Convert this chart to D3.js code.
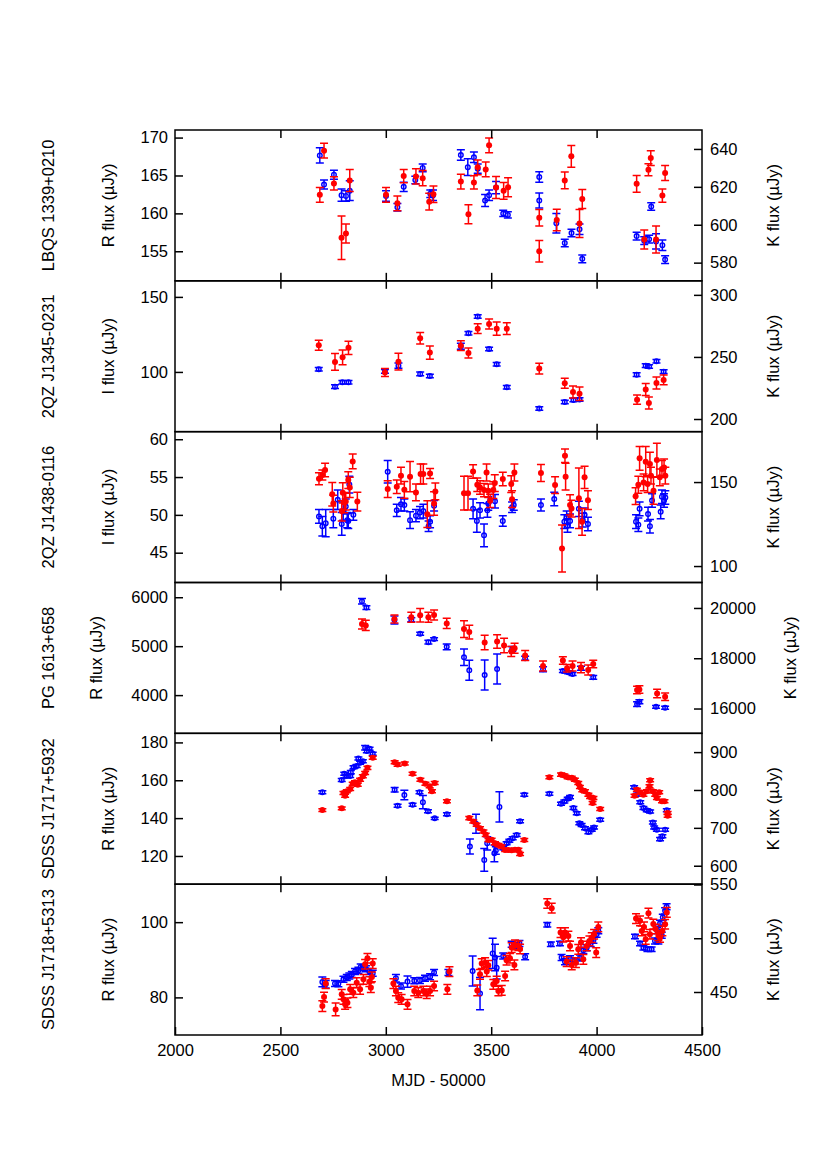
<!DOCTYPE html>
<html><head><meta charset="utf-8">
<script src="https://cdn.jsdelivr.net/npm/d3@7"></script>
<style>body{margin:0;background:#fff}</style>
</head><body><svg id="c" width="830" height="1175"></svg>
<script>
// ---------- data ----------
const xTicks = [2000, 2500, 3000, 3500, 4000, 4500];
const objectNames = ["LBQS 1339+0210", "2QZ J1345-0231", "2QZ J1438-0116", "PG 1613+658", "SDSS J1717+5932", "SDSS J1718+5313"];
const leftTitles = ["R flux (\u00b5Jy)", "I flux (\u00b5Jy)", "I flux (\u00b5Jy)", "R flux (\u00b5Jy)", "R flux (\u00b5Jy)", "R flux (\u00b5Jy)"];
const rightTitles = ["K flux (\u00b5Jy)", "K flux (\u00b5Jy)", "K flux (\u00b5Jy)", "K flux (\u00b5Jy)", "K flux (\u00b5Jy)", "K flux (\u00b5Jy)"];
const leftTicks = [[155,160,165,170],[100,150],[45,50,55,60],[4000,5000,6000],[120,140,160,180],[80,100]];
const rightTicks = [[580,600,620,640],[200,250,300],[100,150],[16000,18000,20000],[600,700,800,900],[450,500,550]];
const leftDomains = [[151.1,171.0],[60.2,160.7],[41.06,61.0],[3219,6301],[105.1,184.8],[70.0,110.1]];
const rightDomains = [[570.4,650.0],[189.8,311.3],[90.2,180.0],[15013,21013],[551.3,949.6],[410.0,550.3]];

// [MJD-50000, flux, error]
const optical1 = [[2687,167.65,1.0],[2707,163.8,0.6],[2754,165.1,0.6],[2790,162.4,0.8],[2811,162.3,0.7],[2829,163.0,1.3],[3001,162.3,0.7],[3055,160.8,0.5],[3085,163.5,0.6],[3140,164.4,0.5],[3175,166.0,0.5],[3211,162.6,0.5],[3224,162.4,0.7],[3356,167.7,0.7],[3389,166.1,1.1],[3418,167.4,0.7],[3436,165.9,0.6],[3471,161.7,0.8],[3490,162.4,0.7],[3523,163.4,0.8],[3557,160.0,0.4],[3579,159.8,0.4],[3728,164.8,0.7],[3728,161.7,1.0],[3809,158.7,1.3],[3849,156.1,0.5],[3881,157.4,0.5],[3919,157.9,0.7],[3932,154.0,0.5],[4190,157.0,0.5],[4226,156.4,0.5],[4249,156.6,0.5],[4259,160.9,0.5],[4282,156.3,1.0],[4312,155.8,0.7],[4325,153.9,0.5]];
const kband1 = [[2687,615.8,3.9],[2707,639.1,3.9],[2754,621.8,3.5],[2790,593.1,11.5],[2811,595.4,5],[2829,623.4,5.8],[3001,615.8,3.9],[3055,611.3,3.9],[3085,625.7,3.5],[3143,625.5,4],[3175,624.6,4],[3206,612.2,4.4],[3226,616.1,4.4],[3356,622.8,3.9],[3392,605.5,5],[3418,622.3,3.5],[3436,630.3,3.9],[3474,629.2,3.9],[3490,641.9,3.9],[3523,619.6,5.8],[3559,617.9,4.4],[3580,619.8,5],[3728,603.7,4.4],[3728,586.0,5.7],[3811,602.5,5.7],[3849,623.4,4.4],[3880,636.1,5.7],[3919,600.7,7.4],[3932,613.6,5],[4190,621.6,4.4],[4226,592.2,5],[4246,629.0,3.2],[4257,635.2,3.9],[4282,592.2,7.1],[4312,615.4,3.5],[4325,627.3,3.9]];

const optical2 = [[2682,101.8,1.2],[2759,90.2,1.2],[2794,93.1,1.2],[2823,93.1,1.2],[2996,100.4,1.2],[3060,104.2,1.8],[3163,98.7,1.2],[3209,97.3,1.2],[3356,117.1,2.0],[3392,125.8,1.2],[3436,136.9,1.2],[3490,115.3,1.2],[3526,105.1,1.2],[3574,89.8,1.2],[3728,75.6,1.2],[3849,80.0,1.2],[3890,81.3,1.2],[3919,81.6,1.2],[4190,98.2,1.2],[4233,104.2,1.2],[4249,103.6,1.2],[4284,107.1,1.2],[4318,100.2,1.2]];
const kband2 = [[2682,259.4,4],[2759,246.0,6.7],[2795,249.7,5.9],[2823,257.3,5.4],[2996,237.4,3.2],[3060,246.2,6.7],[3163,265.1,4.6],[3209,253.5,5.4],[3356,259.1,4],[3392,253.2,4],[3436,272.8,4],[3490,276.6,4],[3526,272.8,5.4],[3574,272.8,4.8],[3728,240.6,4.3],[3849,228.8,4],[3888,221.8,4.8],[3919,220.4,5.4],[4192,215.6,3.8],[4233,223.7,4.8],[4248,212.9,4.8],[4284,229.0,4.8],[4318,231.5,4]];

const optical3 = [[2683,49.8,0.9],[2699,48.5,1.3],[2715,48.9,1.8],[2751,49.5,1.2],[2772,52.0,1.3],[2791,48.8,1.5],[2798,50.5,1.2],[2810,51.1,1.0],[2817,49.3,1.0],[2822,49.2,1.0],[2827,54.0,1.1],[2846,50.0,0.7],[3009,55.7,1.5],[3052,50.6,0.8],[3072,51.4,0.9],[3088,51.3,0.8],[3115,49.3,1.1],[3143,49.9,0.8],[3162,50.3,0.8],[3178,50.5,0.9],[3203,48.5,0.7],[3210,49.1,0.8],[3229,51.2,0.7],[3414,50.8,1.3],[3432,49.2,1.5],[3447,50.6,1.0],[3466,47.3,1.5],[3482,50.6,0.9],[3486,51.5,0.9],[3518,51.8,0.9],[3555,49.2,0.7],[3599,51.0,0.7],[3607,51.3,0.7],[3736,51.3,0.8],[3799,52.1,0.9],[3847,49.1,0.9],[3858,49.6,0.9],[3862,48.6,0.9],[3874,49.2,0.9],[3916,50.8,1.0],[3934,49.3,0.9],[3943,50.0,0.9],[3959,48.8,0.9],[4187,49.1,0.9],[4198,48.7,0.9],[4204,50.8,0.9],[4244,50.1,0.9],[4253,48.5,0.9],[4263,51.9,0.9],[4304,50.4,0.9],[4310,52.4,0.9],[4320,51.9,0.9],[4326,52.3,0.9]];
const kband3 = [[2683,152.0,3.6],[2699,154.2,3],[2712,157.2,4],[2746,142.8,7],[2751,137.2,5],[2791,132.8,6],[2796,143.6,6],[2803,137.8,6],[2810,138.4,5],[2822,151.2,5],[2829,146.8,6],[2843,162.3,4.4],[2865,138.4,5.6],[3009,145.8,5],[3052,147.2,4],[3072,153.8,5],[3088,145.4,5],[3115,153.2,9],[3143,143.8,5],[3165,154.8,6],[3178,154.8,6],[3197,130.9,8],[3210,155.1,3],[3229,137.2,7],[3235,144.4,5],[3371,143.4,10],[3390,143.4,10],[3414,156.3,4],[3434,148.4,4],[3447,146.8,4],[3466,145.2,4],[3478,155.7,5],[3486,144.8,4],[3495,138.8,4],[3510,145.2,5],[3517,149.4,5],[3555,151.8,4],[3595,148.8,5],[3599,139.8,5],[3610,155.7,5],[3736,155.4,5],[3803,148.2,5],[3836,110.5,14],[3850,165.7,4],[3853,153.2,8],[3874,136.4,6],[3881,134.2,5],[3916,140.4,18],[3931,126.3,8],[3943,152.8,6.6],[3959,139.2,5.6],[4185,141.6,5],[4198,148.4,5],[4204,164.1,7],[4223,149.8,5],[4233,162.1,9],[4242,148.8,5],[4253,160.7,7],[4258,153.8,5],[4270,144.8,8],[4286,163.1,10],[4300,152.8,5],[4310,157.8,5],[4320,158.7,5],[4326,153.8,5]];

const optical4 = [[2887,5918,55],[2908,5788,40],[3041,5534,80],[3121,5541,40],[3163,5253,30],[3202,5082,40],[3229,5144,30],[3289,4986,60],[3371,4774,170],[3396,4507,205],[3469,4411,308],[3528,4534,308],[3600,4945,50],[3661,4753,40],[3746,4527,50],[3840,4493,30],[3865,4466,30],[3886,4432,30],[3926,4548,40],[3984,4363,40],[4192,3815,50],[4203,3863,40],[4282,3760,30],[4325,3740,30]];
const kband4 = [[2887,19360,200],[2905,19307,200],[3041,19560,160],[3121,19627,200],[3163,19707,270],[3202,19627,200],[3229,19720,200],[3289,19387,200],[3371,19160,330],[3396,19040,270],[3469,18627,290],[3528,18667,270],[3561,18507,290],[3595,18267,200],[3611,18400,200],[3661,18107,200],[3746,17693,200],[3840,17907,150],[3860,17600,150],[3886,17693,200],[3926,17627,200],[3960,17533,200],[3984,17773,150],[4192,16733,150],[4203,16760,150],[4287,16600,170],[4325,16467,150]];

const optical5 = [[2699,153.7,0.8],[2791,160.2,0.8],[2803,163.5,0.8],[2815,162.2,0.8],[2831,162.2,0.8],[2834,164.3,0.8],[2847,166.9,0.8],[2862,167.5,0.8],[2870,171.5,0.8],[2878,169.2,0.8],[2891,170.1,0.8],[2902,177.2,1.2],[2910,175.4,0.8],[2923,176.7,0.8],[2938,174.0,0.8],[3042,155.0,1.2],[3056,146.5,0.8],[3088,152.2,2.5],[3127,147.1,0.8],[3160,153.7,0.8],[3176,148.4,3.5],[3200,143.6,0.8],[3232,139.9,0.6],[3290,142.1,0.8],[3399,125.0,3.9],[3428,137.0,5],[3467,117.9,6],[3481,126.7,3.5],[3515,121.4,4.4],[3522,122.9,2],[3539,145.9,8],[3557,124.1,0.8],[3573,126.7,0.8],[3586,128.0,0.8],[3602,129.4,0.8],[3621,131.1,0.8],[3637,138.3,0.8],[3657,152.4,0.8],[3776,152.9,0.8],[3831,147.6,0.8],[3847,148.8,0.8],[3863,150.2,0.8],[3874,151.1,0.8],[3890,145.3,0.8],[3906,142.6,0.8],[3918,137.3,0.8],[3929,136.4,0.8],[3945,134.7,0.8],[3961,132.6,0.8],[3977,133.8,0.8],[3988,135.1,0.8],[4017,139.1,0.8],[4178,156.3,0.8],[4191,152.4,0.8],[4207,148.4,0.8],[4222,145.3,0.8],[4238,144.1,0.8],[4254,143.5,0.8],[4267,137.7,0.8],[4273,135.1,0.8],[4286,133.8,0.8],[4301,128.9,0.8],[4312,130.4,0.8],[4325,133.8,0.8],[4333,144.1,0.8]];
const kband5 = [[2699,747,3.5],[2791,751.5,3.5],[2799,792,4],[2807,785,4],[2815,796.5,4],[2831,802.7,4],[2843,816.7,4],[2854,820.4,4],[2867,814,4],[2878,827.3,4],[2891,836.3,4],[2902,845,4],[2913,858.4,4],[2938,885,4],[3042,873.5,4],[3056,867,4],[3090,869.8,4],[3127,843,4],[3164,827.3,4],[3188,816.7,4],[3208,809.8,4],[3219,796.5,4],[3232,818.6,4],[3290,770,4],[3396,725.7,4],[3415,717,4],[3431,708,4],[3447,699.2,4],[3463,690.4,4],[3474,681.5,4],[3487,668.2,4],[3502,668.8,4],[3518,659.4,4],[3534,654.9,4],[3550,650.6,4],[3566,641.6,4],[3581,641.6,4],[3597,641,4],[3613,642,4],[3629,642,4],[3637,631,4],[3657,668.2,4],[3776,833.7,4],[3831,840.6,4],[3847,838,4],[3863,833.7,4],[3882,832,4],[3897,827.3,4],[3913,818.6,4],[3921,808,4],[3932,799.2,4],[3945,796.5,4],[3961,787.6,4],[3969,781.4,4],[3985,779,4],[3981,765.5,4],[4017,749.6,4],[4180,785,4],[4191,800.8,4],[4207,793.9,4],[4222,787.6,4],[4238,796.5,4],[4251,809.8,4],[4254,825.7,4],[4267,796.5,4],[4278,787.6,4],[4286,779,4],[4297,793.9,4],[4310,770,4],[4322,770,4],[4337,739,4],[4337,732,4]];

const optical6 = [[2699,84.1,1.3],[2715,83.5,1.0],[2759,83.7,0.8],[2775,83.6,0.8],[2799,84.8,0.8],[2815,85.3,0.8],[2827,85.7,0.8],[2839,86.1,0.8],[2854,86.9,0.8],[2870,87.2,0.8],[2881,88.1,0.8],[2894,87.9,0.8],[2906,87.6,0.8],[2922,86.9,0.8],[2938,86.4,0.8],[3048,85.1,1.0],[3072,83.0,0.8],[3103,84.2,1.5],[3135,84.4,0.8],[3162,84.5,0.8],[3186,85.1,0.8],[3210,85.5,0.8],[3229,86.6,0.8],[3297,86.6,0.8],[3412,87.0,4],[3447,81.0,4.3],[3507,91.7,4],[3518,90.6,3.5],[3526,87.9,3],[3557,91.0,0.8],[3597,94.1,0.8],[3613,93.7,0.8],[3634,94.3,0.8],[3661,90.8,0.8],[3766,99.3,0.6],[3783,94.1,0.6],[3826,94.3,0.6],[3834,90.6,0.8],[3850,89.5,0.8],[3874,90.3,0.8],[3897,89.7,0.8],[3921,90.5,0.8],[3937,92.5,0.8],[3953,93.2,0.8],[3972,94.3,0.8],[3985,95.2,0.8],[4000,96.8,0.8],[4008,97.7,0.8],[4182,96.2,0.6],[4206,94.3,0.6],[4222,93.2,0.6],[4241,92.8,0.6],[4261,92.8,0.6],[4277,95.0,0.8],[4288,97.7,0.8],[4293,95.0,0.8],[4301,99.7,0.8],[4309,96.5,0.8],[4314,101.3,0.8],[4325,103.0,0.8],[4332,104.1,0.8]];
const kband6 = [[2699,436.9,5],[2707,445.3,4.5],[2715,457.8,4.5],[2762,433.8,6],[2791,447.8,4.5],[2799,443.2,4.5],[2807,438.5,4.5],[2818,440,4.5],[2831,452.5,4.5],[2846,449.4,4.5],[2862,458.7,4.5],[2878,452.5,4.5],[2894,461.8,4.5],[2902,475.8,4.5],[2913,481.4,4.5],[2922,459.6,4.5],[2929,454,4.5],[2938,476.4,4.5],[2934,464,4.5],[3036,457.8,4.5],[3048,450.9,4.5],[3059,444.7,4.5],[3075,443.2,4.5],[3103,438.5,4.5],[3135,450.9,4.5],[3154,449.4,4.5],[3178,450.9,4.5],[3194,448.4,4.5],[3210,450.9,4.5],[3229,455.6,4.5],[3302,469,4.5],[3292,452.5,4.5],[3434,451.5,5],[3447,466.4,4.5],[3455,476.4,4.5],[3471,477.3,4.5],[3479,469,4.5],[3486,474.9,4.5],[3510,457.1,4.5],[3526,460.2,4.5],[3534,450.9,4.5],[3550,451.5,4.5],[3566,464.9,4.5],[3573,479.5,4.5],[3589,481.4,4.5],[3610,475.2,4.5],[3597,491.3,4.5],[3613,493.8,4.5],[3629,493,4.5],[3637,490,4.5],[3766,532.3,4.5],[3787,528,4.5],[3829,505.3,4.5],[3850,505.3,4.5],[3866,502,4.5],[3842,501,4.5],[3874,492.8,4.5],[3858,478.3,4.5],[3882,475.2,4.5],[3902,477.3,4.5],[3913,489.7,4.5],[3926,496,4.5],[3937,480.4,4.5],[3953,492.8,4.5],[3966,497.5,4.5],[3977,500.6,4.5],[3988,503.7,4.5],[3998,486.7,4.5],[4008,510.5,4.5],[4187,518.3,4.5],[4206,516.2,4.5],[4214,506.8,4.5],[4225,510.5,4.5],[4233,499,4.5],[4246,523.3,4.5],[4253,503.7,4.5],[4269,513.2,4.5],[4280,508.6,4.5],[4293,502.4,4.5],[4301,500.8,4.5],[4312,506.8,4.5],[4325,513,4.5],[4333,524,4.5]];

const opticalSeries = [optical1, optical2, optical3, optical4, optical5, optical6];
const kbandSeries = [kband1, kband2, kband3, kband4, kband5, kband6];

// ---------- layout ----------
const W = 830, H = 1175;
const L = 175, R = 702, T = 130, B = 1035;
const ph = (B - T) / 6;
const font = "'Liberation Sans', Arial, Helvetica, sans-serif";
const fs = 16.5;
const blue = "#0000ff", red = "#ff0000";
const svg = d3.select("#c");
svg.append("rect").attr("width", W).attr("height", H).attr("fill", "#fff");

const x = d3.scaleLinear().domain([2000, 4500]).range([L, R]);
const leftTitleX = [108,108,108,96,108,108];
const rightTitleX = [773,773,773,790,773,773];

function errBars(g, data, y, color, cap) {
  const gg = g.append("g").attr("stroke", color).attr("stroke-width", 1.5).attr("fill", "none");
  data.forEach(d => {
    const cx = x(d[0]), y1 = y(d[1] - d[2]), y2 = y(d[1] + d[2]);
    gg.append("line").attr("x1", cx).attr("x2", cx).attr("y1", y1).attr("y2", y2);
    gg.append("line").attr("x1", cx - cap).attr("x2", cx + cap).attr("y1", y1).attr("y2", y1);
    gg.append("line").attr("x1", cx - cap).attr("x2", cx + cap).attr("y1", y2).attr("y2", y2);
  });
}

for (let i = 0; i < 6; i++) {
  const top = T + i * ph, bot = top + ph;
  const yL = d3.scaleLinear().domain(leftDomains[i]).range([bot, top]);
  const yR = d3.scaleLinear().domain(rightDomains[i]).range([bot, top]);
  const g = svg.append("g");

  const clipId = "clip" + i;
  svg.append("clipPath").attr("id", clipId).append("rect").attr("x", L).attr("y", top).attr("width", R - L).attr("height", ph);
  const dg = g.append("g").attr("clip-path", `url(#${clipId})`);
  errBars(dg, opticalSeries[i], yL, blue, 4);
  dg.append("g").selectAll("circle").data(opticalSeries[i]).join("circle")
    .attr("cx", d => x(d[0])).attr("cy", d => yL(d[1])).attr("r", 2.3)
    .attr("fill", "none").attr("stroke", blue).attr("stroke-width", 1.4);
  errBars(dg, kbandSeries[i], yR, red, 4);
  dg.append("g").selectAll("circle").data(kbandSeries[i]).join("circle")
    .attr("cx", d => x(d[0])).attr("cy", d => yR(d[1])).attr("r", 3)
    .attr("fill", red);

  const axL = g.append("g").attr("transform", `translate(${L},0)`)
    .call(d3.axisLeft(yL).tickValues(leftTicks[i]).tickSize(-8).tickPadding(7).tickFormat(d3.format("d")));
  const axR = g.append("g").attr("transform", `translate(${R},0)`)
    .call(d3.axisRight(yR).tickValues(rightTicks[i]).tickSize(-8).tickPadding(8).tickFormat(d3.format("d")));
  const axT = g.append("g").attr("transform", `translate(0,${top})`)
    .call(d3.axisTop(x).tickValues([2500,3000,3500,4000]).tickSize(-8).tickFormat(""));
  const axB = g.append("g").attr("transform", `translate(0,${bot})`)
    .call(d3.axisBottom(x).tickValues(i === 5 ? xTicks : [2500,3000,3500,4000]).tickSize(-8).tickPadding(9)
      .tickFormat(i === 5 ? d3.format("d") : ""));
  [axL, axR, axT, axB].forEach(a => {
    a.select(".domain").remove();
    a.selectAll("line").attr("stroke", "#000").attr("stroke-width", 1.5);
    a.selectAll("text").attr("font-family", font).attr("font-size", fs).attr("fill", "#000");
  });

  g.append("rect").attr("x", L).attr("y", top).attr("width", R - L).attr("height", ph)
    .attr("fill", "none").attr("stroke", "#000").attr("stroke-width", 1.5);

  const cy = (top + bot) / 2;
  g.append("text").attr("transform", `translate(54,${cy}) rotate(-90)`).attr("text-anchor", "middle")
    .attr("font-family", font).attr("font-size", fs).text(objectNames[i]);
  g.append("text").attr("transform", `translate(${leftTitleX[i] + 6},${cy}) rotate(-90)`).attr("text-anchor", "middle")
    .attr("font-family", font).attr("font-size", fs).text(leftTitles[i]);
  g.append("text").attr("transform", `translate(${rightTitleX[i] + 6},${cy}) rotate(-90)`).attr("text-anchor", "middle")
    .attr("font-family", font).attr("font-size", fs).text(rightTitles[i]);
}

svg.append("text").attr("x", (L + R) / 2).attr("y", 1086).attr("text-anchor", "middle")
  .attr("font-family", font).attr("font-size", fs).text("MJD - 50000");
</script>
</body></html>
